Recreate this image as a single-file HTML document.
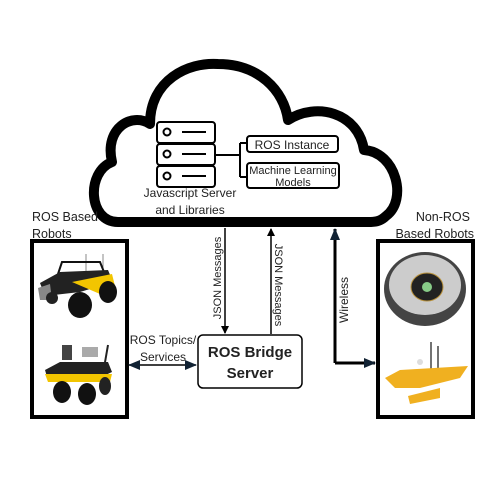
<!DOCTYPE html>
<html><head><style>
html,body{margin:0;padding:0;background:#fff;}
svg{display:block;}
text{font-family:"Liberation Sans",sans-serif;fill:#222;}
</style></head><body>
<svg width="500" height="500" viewBox="0 0 500 500" xmlns="http://www.w3.org/2000/svg">
<defs>
<marker id="ah" markerWidth="8" markerHeight="8" refX="7" refY="4" orient="auto" markerUnits="userSpaceOnUse">
<path d="M0,0 L8,4 L0,8 Z" fill="#000"/></marker>
<marker id="ahb" markerWidth="12" markerHeight="10" refX="11" refY="5" orient="auto" markerUnits="userSpaceOnUse">
<path d="M0,0 L12,5 L0,10 Z" fill="#123"/></marker>
<marker id="ahs" markerWidth="12" markerHeight="10" refX="1" refY="5" orient="auto" markerUnits="userSpaceOnUse">
<path d="M12,0 L0,5 L12,10 Z" fill="#123"/></marker>
</defs>
<!-- cloud -->
<path d="M118 222 C88 222 86 172 112 162 C104 128 132 112 150 124 C150 80 188 62 218 64 C258 64 284 90 288 120 C316 102 358 112 364 150 C396 152 408 200 386 216 C380 222 374 222 368 222 Z" fill="#fff" stroke="#000" stroke-width="10" stroke-linejoin="round"/>
<!-- server icon -->
<g fill="#fff" stroke="#000" stroke-width="2">
<rect x="157" y="122" width="58" height="21" rx="3"/>
<rect x="157" y="144" width="58" height="21" rx="3"/>
<rect x="157" y="166" width="58" height="21" rx="3"/>
<circle cx="167" cy="132" r="3.5"/><circle cx="167" cy="154" r="3.5"/><circle cx="167" cy="176" r="3.5"/>
<line x1="182" y1="132" x2="206" y2="132"/><line x1="182" y1="154" x2="206" y2="154"/><line x1="182" y1="176" x2="206" y2="176"/>
<path d="M215 155 H240 M240 143 V177 M240 143 H247 M240 177 H247" fill="none"/>
<rect x="247" y="136" width="91" height="16" rx="3"/>
<rect x="247" y="163" width="92" height="25" rx="3"/>
</g>
<text x="292" y="149" font-size="12" text-anchor="middle">ROS Instance</text>
<text x="293" y="174" font-size="11" text-anchor="middle">Machine Learning</text>
<text x="293" y="186" font-size="11" text-anchor="middle">Models</text>
<text x="190" y="197" font-size="12" text-anchor="middle">Javascript Server</text>
<text x="190" y="214" font-size="12" text-anchor="middle">and Libraries</text>
<!-- labels -->
<text x="32" y="221" font-size="12.5">ROS Based</text>
<text x="32" y="238" font-size="12.5">Robots</text>
<text x="470" y="221" font-size="12.5" text-anchor="end">Non-ROS</text>
<text x="474" y="238" font-size="12.5" text-anchor="end">Based Robots</text>
<!-- boxes -->
<rect x="32" y="241" width="95" height="176" fill="#fff" stroke="#000" stroke-width="4"/>
<rect x="378" y="241" width="95" height="176" fill="#fff" stroke="#000" stroke-width="4"/>
<rect x="198" y="335" width="104" height="53" rx="5" fill="#fff" stroke="#000" stroke-width="1.5"/>
<text x="250" y="357" font-size="15" font-weight="bold" text-anchor="middle">ROS Bridge</text>
<text x="250" y="378" font-size="15" font-weight="bold" text-anchor="middle">Server</text>
<!-- arrows -->
<line x1="225" y1="228" x2="225" y2="333" stroke="#000" stroke-width="1.5" marker-end="url(#ah)"/>
<text transform="translate(221,278) rotate(-90)" font-size="11" text-anchor="middle">JSON Messages</text>
<line x1="271" y1="334" x2="271" y2="229" stroke="#000" stroke-width="1.5" marker-end="url(#ah)"/>
<text transform="translate(275,285) rotate(90)" font-size="11" text-anchor="middle">JSON Messages</text>
<path d="M335 363 V229" stroke="#000" stroke-width="3" fill="none" marker-end="url(#ahb)"/>
<path d="M335 363 H375" stroke="#000" stroke-width="3" fill="none" marker-end="url(#ahb)"/>
<text transform="translate(348,300) rotate(-90)" font-size="12" text-anchor="middle">Wireless</text>
<line x1="129" y1="365" x2="196" y2="365" stroke="#000" stroke-width="1.5" marker-start="url(#ahs)" marker-end="url(#ahb)"/>
<text x="163" y="344" font-size="12" text-anchor="middle">ROS Topics/</text>
<text x="163" y="361" font-size="12" text-anchor="middle">Services</text>
<!-- robot 1 -->
<g>
<line x1="86" y1="254" x2="86" y2="272" stroke="#888" stroke-width="1"/>
<line x1="103" y1="254" x2="103" y2="270" stroke="#888" stroke-width="1"/>
<path d="M58 274 L62 262 L100 262 L104 272" fill="none" stroke="#111" stroke-width="2"/>
<path d="M40 283 L60 272 L108 270 L113 282 L80 292 L45 296 Z" fill="#222"/>
<path d="M72 282 L112 274 L116 290 L100 294 Z" fill="#f2c500"/>
<path d="M38 288 L50 284 L52 300 L40 300 Z" fill="#888"/>
<ellipse cx="80" cy="305" rx="12" ry="13" fill="#111"/>
<ellipse cx="108" cy="292" rx="9" ry="11" fill="#111"/>
<ellipse cx="52" cy="298" rx="6" ry="6" fill="#222"/>
</g>
<!-- robot 2 -->
<g>
<rect x="62" y="345" width="10" height="15" fill="#444"/>
<rect x="82" y="347" width="16" height="10" fill="#aaa"/>
<line x1="108" y1="345" x2="104" y2="368" stroke="#222" stroke-width="2"/>
<path d="M45 370 L60 362 L108 362 L112 372 L95 380 L48 380 Z" fill="#222"/>
<path d="M45 374 L112 374 L110 382 L48 382 Z" fill="#f2c500"/>
<ellipse cx="62" cy="392" rx="9" ry="11" fill="#111"/>
<ellipse cx="87" cy="394" rx="9" ry="11" fill="#111"/>
<ellipse cx="105" cy="386" rx="6" ry="9" fill="#222"/>
</g>
<!-- roomba -->
<ellipse cx="425" cy="289" rx="41" ry="37" fill="#444"/>
<ellipse cx="425" cy="285" rx="36" ry="30" fill="#ccc"/>
<ellipse cx="427" cy="287" rx="16" ry="14" fill="#222" stroke="#b8913c" stroke-width="1"/>
<circle cx="427" cy="287" r="5" fill="#8c8"/>
<!-- boat -->
<line x1="431" y1="342" x2="431" y2="372" stroke="#444" stroke-width="1.5"/>
<line x1="438" y1="346" x2="438" y2="374" stroke="#444" stroke-width="1.5"/>
<circle cx="420" cy="362" r="3" fill="#ddd"/>
<path d="M385 378 L400 370 L468 366 L460 378 L420 388 L395 388 Z" fill="#f0b020"/>
<path d="M408 396 L440 388 L440 398 L410 404 Z" fill="#f0b020"/>
</svg>
</body></html>
